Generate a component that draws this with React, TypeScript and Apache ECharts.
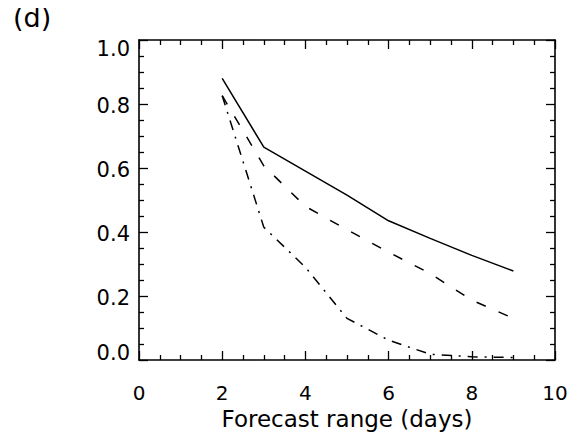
import React, { useEffect, useRef } from "react";
import * as echarts from "echarts";

const days = [2, 3, 4, 5, 6, 7, 8, 9];
const solidSeries = [0.88, 0.665, 0.59, 0.515, 0.435, 0.38, 0.327, 0.278];
const dashedSeries = [0.826, 0.607, 0.48, 0.407, 0.337, 0.27, 0.187, 0.13];
const dashDotSeries = [0.826, 0.415, 0.29, 0.13, 0.062, 0.018, 0.01, 0.008];
const panelLabel = "(d)";
const xTitle = "Forecast range (days)";

const FONT = "DejaVu Sans";

export default function App() {
  const ref = useRef<HTMLDivElement>(null);
  useEffect(() => {
    if (!ref.current) return;
    const chart = echarts.init(ref.current, null, { renderer: "svg" });
    const axisLine = { show: true, onZero: false, lineStyle: { color: "#000", width: 1.6 } };
    const tickCommon = {
      show: true,
      inside: true,
      length: 9,
      lineStyle: { color: "#000", width: 1.3 },
    };
    const minorCommon = {
      show: true,
      splitNumber: 4,
      length: 5,
      lineStyle: { color: "#000", width: 1.3 },
    };
    const mk = (ys: number[]) => days.map((d, i) => [d, ys[i]]);
    chart.setOption({
      animation: false,
      backgroundColor: "#fff",
      grid: { left: 139, right: 21, top: 40, bottom: 80, containLabel: false },
      graphic: [
        {
          type: "text",
          left: 13,
          top: 4,
          style: { text: panelLabel, font: `27px "${FONT}"`, fill: "#000" },
        },
      ],
      xAxis: [
        {
          type: "value",
          min: 0,
          max: 10,
          interval: 2,
          position: "bottom",
          axisLine,
          axisTick: tickCommon,
          minorTick: minorCommon,
          splitLine: { show: false },
          axisLabel: {
            color: "#000",
            fontFamily: FONT,
            fontSize: 20,
            margin: 23,
          },
          name: xTitle,
          nameLocation: "middle",
          nameGap: 45,
          nameTextStyle: {
            color: "#000",
            fontFamily: FONT,
            fontSize: 23,
            verticalAlign: "top",
          },
        },
        {
          type: "value",
          min: 0,
          max: 10,
          interval: 2,
          position: "top",
          axisLine,
          axisTick: tickCommon,
          minorTick: minorCommon,
          splitLine: { show: false },
          axisLabel: { show: false },
        },
      ],
      yAxis: [
        {
          type: "value",
          min: 0,
          max: 1,
          interval: 0.2,
          position: "left",
          axisLine,
          axisTick: tickCommon,
          minorTick: minorCommon,
          splitLine: { show: false },
          axisLabel: {
            color: "#000",
            fontFamily: FONT,
            fontSize: 21,
            margin: 9,
            formatter: (v: number) => {
              const t = v.toFixed(1);
              if (Math.abs(v - 1) < 1e-6) return "{top|" + t + "}";
              if (Math.abs(v) < 1e-6) return "{bot|" + t + "}";
              return "{n|" + t + "}";
            },
            rich: {
              top: { fontFamily: FONT, fontSize: 21, color: "#000", padding: [18, 0, 0, 0] },
              bot: { fontFamily: FONT, fontSize: 21, color: "#000", padding: [0, 0, 14, 0] },
              n: { fontFamily: FONT, fontSize: 21, color: "#000", padding: [4, 0, 0, 0] },
            },
          },
        },
        {
          type: "value",
          min: 0,
          max: 1,
          interval: 0.2,
          position: "right",
          axisLine,
          axisTick: tickCommon,
          minorTick: minorCommon,
          splitLine: { show: false },
          axisLabel: { show: false },
        },
      ],
      series: [
        {
          type: "line",
          data: mk(solidSeries),
          symbol: "none",
          lineStyle: { color: "#000", width: 1.5, type: "solid" },
        },
        {
          type: "line",
          data: mk(dashedSeries),
          symbol: "none",
          lineStyle: { color: "#000", width: 1.5, type: [10, 14] },
        },
        {
          type: "line",
          data: mk(dashDotSeries),
          symbol: "none",
          lineStyle: { color: "#000", width: 1.5, type: [10, 7, 2, 7] },
        },
      ],
    });
    return () => chart.dispose();
  }, []);
  return <div ref={ref} style={{ width: 576, height: 440, marginLeft: -8, marginTop: -8 }} />;
}
